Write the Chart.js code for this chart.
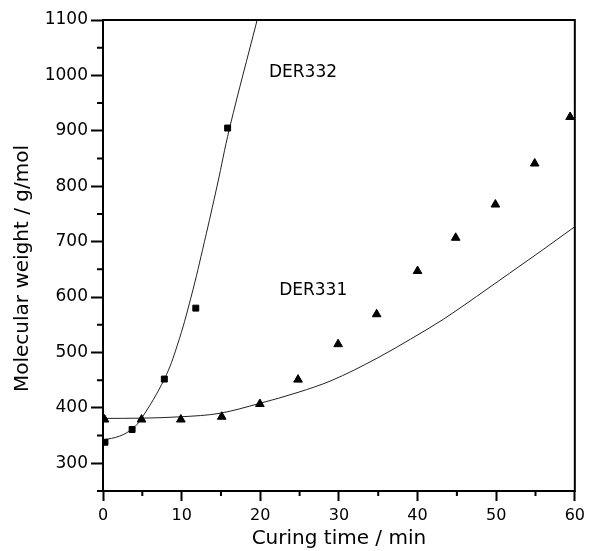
<!DOCTYPE html>
<html>
<head>
<meta charset="utf-8">
<script src="https://cdn.jsdelivr.net/npm/chart.js@4/dist/chart.umd.min.js"></script>
<style>
  html, body { margin: 0; padding: 0; background: #fff; }
  #wrap { width: 590px; height: 551px; }
</style>
</head>
<body>
<div id="wrap"><canvas id="c" width="590" height="551"></canvas></div>
<script>
// ---- Data ----
const der332Time = [0.25, 3.7, 7.8, 11.8, 15.85];
const der332MW   = [338, 361, 452, 580, 905];

const der331Time = [0.2, 4.9, 9.9, 15.1, 19.95, 24.8, 29.9, 34.8, 40.0, 44.85, 49.9, 54.9, 59.4];
const der331MW   = [379, 379, 379, 384, 407, 451, 515, 569, 647, 707, 767, 841, 925];

// fitted curves
const fit332Time = [0, 2.1, 3.7, 4.9, 7.8, 9.45, 11.2, 12.9, 14.5, 16.1, 19.6];
const fit332MW   = [342, 349, 362, 381, 452, 513, 600, 700, 800, 905, 1100];

const fit331Time = [0, 5, 10, 14.75, 19.9, 24.8, 29, 34.9, 39.1, 43.3, 47.5, 51.7, 55.9, 60];
const fit331MW   = [381, 381.5, 384, 390, 408, 428, 449, 490, 524, 560, 601, 643, 685, 727];

// axis ranges / tick steps
const X_MIN = 0, X_MAX = 60, X_STEP = 10;
const Y_MIN = 250, Y_MAX = 1100, Y_STEP = 100;

const xTitle = 'Curing time / min';
const yTitle = 'Molecular weight / g/mol';
const curveLabels = ['DER332', 'DER331'];

// ---- helpers ----
const pts = (xs, ys) => xs.map((v, i) => ({ x: v, y: ys[i] }));
const FONT = '"DejaVu Sans", "Liberation Sans", Arial, sans-serif';

const decor = {
  id: 'decor',
  afterDraw(chart) {
    const { ctx, chartArea: a, scales: { x, y } } = chart;
    ctx.save();
    // frame
    ctx.strokeStyle = '#000';
    ctx.lineWidth = 2;
    ctx.strokeRect(a.left, a.top, a.right - a.left, a.bottom - a.top);
    // minor ticks
    ctx.beginPath();
    for (let v = X_MIN; v <= X_MAX; v += X_STEP / 2) {
      if (v % X_STEP === 0) continue;
      const px = x.getPixelForValue(v);
      ctx.moveTo(px, a.bottom);
      ctx.lineTo(px, a.bottom + 5);
    }
    for (let v = Y_MIN; v <= Y_MAX; v += Y_STEP / 2) {
      if (v % Y_STEP === 0) continue;
      const py = y.getPixelForValue(v);
      ctx.moveTo(a.left, py);
      ctx.lineTo(a.left - 6, py);
    }
    ctx.stroke();
    // curve labels
    ctx.fillStyle = '#000';
    ctx.font = '17px ' + FONT;
    ctx.textBaseline = 'alphabetic';
    ctx.textAlign = 'left';
    ctx.fillText(curveLabels[0], x.getPixelForValue(21.1), y.getPixelForValue(997));
    ctx.fillText(curveLabels[1], x.getPixelForValue(22.4), y.getPixelForValue(604));
    // y axis title
    ctx.font = '20px ' + FONT;
    ctx.textAlign = 'center';
    ctx.textBaseline = 'middle';
    ctx.translate(23, (a.top + a.bottom) / 2 + 13);
    ctx.rotate(-Math.PI / 2);
    ctx.fillText(yTitle, 0, 0);
    ctx.restore();
  }
};

new Chart(document.getElementById('c'), {
  type: 'scatter',
  data: {
    datasets: [
      {
        label: 'DER332 data',
        data: pts(der332Time, der332MW),
        pointStyle: 'rect',
        pointRadius: 4.2,
        pointBorderWidth: 1,
        backgroundColor: '#000',
        borderColor: '#000',
        showLine: false
      },
      {
        label: 'DER331 data',
        data: pts(der331Time, der331MW),
        pointStyle: 'triangle',
        pointRadius: 5,
        pointBorderWidth: 1,
        backgroundColor: '#000',
        borderColor: '#000',
        showLine: false
      },
      {
        label: 'DER332 fit',
        data: pts(fit332Time, fit332MW),
        showLine: true,
        pointRadius: 0,
        borderColor: '#222',
        borderWidth: 1,
        tension: 0.4
      },
      {
        label: 'DER331 fit',
        data: pts(fit331Time, fit331MW),
        showLine: true,
        pointRadius: 0,
        borderColor: '#222',
        borderWidth: 1,
        cubicInterpolationMode: 'monotone'
      }
    ]
  },
  options: {
    responsive: false,
    animation: false,
    devicePixelRatio: 1,
    layout: { padding: { top: 20, right: 12, left: 0, bottom: 0 } },
    plugins: { legend: { display: false }, tooltip: { enabled: false } },
    scales: {
      x: {
        type: 'linear',
        min: X_MIN, max: X_MAX,
        ticks: { stepSize: X_STEP, color: '#000', padding: 5, font: { family: FONT, size: 16 },
                 callback: v => String(v) },
        grid: { drawOnChartArea: false, drawTicks: true, tickLength: 10, tickWidth: 2, tickColor: '#000' },
        border: { display: false },
        title: { display: true, text: xTitle, color: '#000', font: { family: FONT, size: 20 }, padding: { top: 0, bottom: 0 } },
        afterFit(s) { s.height = 60; }
      },
      y: {
        type: 'linear',
        min: Y_MIN, max: Y_MAX,
        afterBuildTicks(s) { s.ticks = s.ticks.filter(t => t.value % Y_STEP === 0); },
        ticks: { stepSize: Y_STEP, color: '#000', padding: 3, font: { family: FONT, size: 17 },
                 callback: v => String(v) },
        grid: { drawOnChartArea: false, drawTicks: true, tickLength: 12, tickWidth: 2, tickColor: '#000' },
        border: { display: false },
        afterFit(s) { s.width = 103; }
      }
    }
  },
  plugins: [decor]
});
</script>
</body>
</html>
